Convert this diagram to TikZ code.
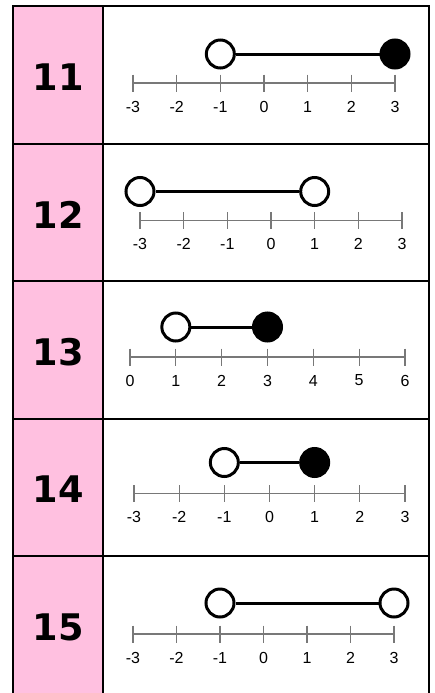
\documentclass[tikz,border=0pt]{standalone}
\usepackage{fontspec}
\setmainfont{Liberation Sans}
\newfontfamily\numfont{DejaVu Sans}
\definecolor{rowpink}{RGB}{255,192,224}
\definecolor{axisgray}{RGB}{120,120,120}
\begin{document}
\begin{tikzpicture}[x=0.75pt,y=-0.75pt,
   opendot/.style={circle,draw,line width=2.25pt,fill=white,minimum size=21pt,inner sep=0pt},
   shutdot/.style={opendot,fill=black},
   ticklbl/.style={font=\fontsize{12}{14}\selectfont,inner sep=0pt},
   rownum/.style={font=\numfont\bfseries\fontsize{27.5}{30}\selectfont,inner sep=0pt}]
   \useasboundingbox (0,0) rectangle (435,693);
   \fill[rowpink] (13,6) rectangle (103,693);
   \foreach \y in {6,143.5,281,418.5,556}
     \draw[line width=1.5pt,line cap=rect] (13,\y) -- (429,\y);
   \foreach \x in {13,103,429}
     \draw[line width=1.5pt] (\x,6) -- (\x,693);
   \foreach \n/\t/\xl/\xr/\cy/\ay/\s/\a/\b/\sa/\sb in
     { 11/6/133/395/48/77/-3/2/6/opendot/shutdot,
       12/143.5/140/402/48/77/-3/0/4/opendot/opendot,
       13/281/130/405/46/76/0/1/3/opendot/shutdot,
       14/418.5/134/405/44/75/-3/2/4/opendot/shutdot,
       15/556/133/394/47/78/-3/2/6/opendot/opendot}
   {
     \node[rownum] (n\n) at (58,\t+71) {\n};
     \pgfmathsetmacro\dx{(\xr-\xl)/6}
     \draw[axisgray,line width=1.1pt] (\xl,\t+\ay) -- (\xr,\t+\ay);
     \foreach \i in {0,...,6} {
       \pgfmathtruncatemacro\v{\s+\i}
       \draw[axisgray,line width=0.9pt] (\xl+\i*\dx,\t+\ay-8.5) -- ++(0,17);
       \node[ticklbl] (t\n-\i) at (\xl+\i*\dx,\t+\ay+23.5) {\v};
     }
     \node[\sa] (p\n) at (\xl+\a*\dx,\t+\cy) {};
     \node[\sb] (q\n) at (\xl+\b*\dx,\t+\cy) {};
     \draw[line width=2.25pt] (p\n) -- (q\n);
   }
\end{tikzpicture}
\end{document}
